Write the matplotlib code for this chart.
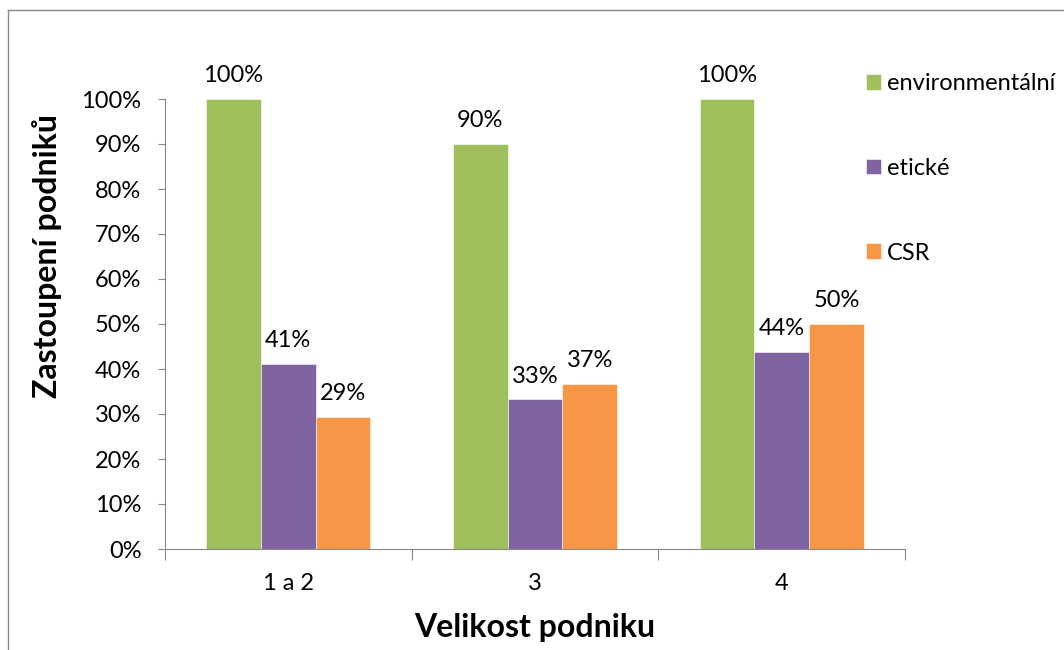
import matplotlib.pyplot as plt
import numpy as np
from matplotlib.lines import Line2D

plt.rcParams['font.family'] = ['Lato', 'DejaVu Sans']

categories = ['1 a 2', '3', '4']
series = ['environmentální', 'etické', 'CSR']
environmental = [1.00, 0.90, 1.00]
ethical = [0.412, 0.333, 0.438]
csr = [0.294, 0.367, 0.50]
colors = ['#9FBE5C', '#8064A2', '#F79646']
yticks = np.arange(0, 1.01, 0.1)

W, H = 1064, 650
fig = plt.figure(figsize=(W / 100, H / 100), dpi=100)
ax = fig.add_axes([165 / W, 101 / H, 740 / W, 450 / H])

x = np.arange(len(categories))
bw = 0.222
for i, (vals, name, c) in enumerate(zip([environmental, ethical, csr], series, colors)):
    pos = x + (i - 1) * bw
    bars = ax.bar(pos, vals, bw, color=c, label=name, edgecolor='white', linewidth=0.4)
    for b, v in zip(bars, vals):
        ax.text(b.get_x() + b.get_width() / 2, v + 0.028, f'{v:.0%}',
                ha='center', va='bottom', fontsize=17)

ax.set_xlim(-0.5, 2.5)
ax.set_ylim(0, 1)
ax.set_yticks(yticks)
ax.set_yticklabels([f'{t:.0%}' for t in yticks], fontsize=17)
ax.tick_params(axis='y', length=5, color='#888888', pad=12)

# boundaries between groups get the tick marks, labels sit in the middle
ax.set_xticks([-0.5, 0.5, 1.5, 2.5])
ax.set_xticklabels([])
ax.tick_params(axis='x', which='major', length=8, color='#888888')
ax.set_xticks(x, minor=True)
ax.set_xticklabels(categories, minor=True, fontsize=17)
ax.tick_params(axis='x', which='minor', length=0, pad=17)

for s in ['top', 'right']:
    ax.spines[s].set_visible(False)
for s in ['left', 'bottom']:
    ax.spines[s].set_color('#888888')

ax.set_xlabel('Velikost podniku', fontsize=23, fontweight='bold', labelpad=14)
fig.text(47 / W, 1 - 256 / H, 'Zastoupení podniků', rotation=90, fontsize=23,
         fontweight='bold', ha='center', va='center')

fig.legend(loc='upper left', bbox_to_anchor=(866 / W, 1 - 73 / H), frameon=False,
           fontsize=17, handlelength=0.65, handleheight=0.65, handletextpad=0.25,
           labelspacing=2.7, borderaxespad=0, borderpad=0)

fig.add_artist(Line2D([8 / W, 8 / W], [0, 1 - 10 / H], transform=fig.transFigure,
                      color='#888888', linewidth=1))
fig.add_artist(Line2D([8 / W, 1], [1 - 10 / H, 1 - 10 / H], transform=fig.transFigure,
                      color='#888888', linewidth=1))

fig.savefig('out.png', dpi=100)
